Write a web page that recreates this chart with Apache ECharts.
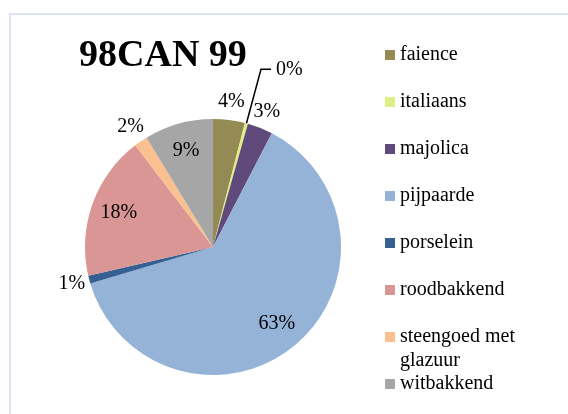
<!DOCTYPE html>
<html>
<head>
<meta charset="utf-8">
<script src="https://cdn.jsdelivr.net/npm/echarts@6/dist/echarts.min.js"></script>
<style>
html,body{margin:0;padding:0;background:#fff;}
#chart{width:568px;height:414px;}
</style>
</head>
<body>
<div id="chart"></div>
<script>
const titleText = '98CAN 99';
const categories = ['faience','italiaans','majolica','pijpaarde','porselein','roodbakkend','steengoed met glazuur','witbakkend'];
const values = [4.0, 0.4, 3.2, 62.8, 1.0, 18.2, 1.7, 8.7];
const colors = ['#948a54','#e0ef83','#604a7b','#95b3d7','#376092','#d99694','#fac090','#a6a6a6'];
const insideLabels = [false, false, false, true, false, true, false, true];

const FONT = '"Liberation Serif","Times New Roman",serif';
const cx = 213, cy = 247, R = 128;
const legTop = 45, legRow = 20, legGap = 27;

// mid angles (clockwise from top) computed from the data
const total = values.reduce((a,b)=>a+b,0);
const midAngles = [];
let acc = 0;
values.forEach(v => { midAngles.push((acc + v/2) / total * 2 * Math.PI); acc += v; });

const wrapIdx = categories.indexOf('steengoed met glazuur');

const chart = echarts.init(document.getElementById('chart'), null, {renderer:'canvas'});
chart.setOption({
  animation:false,
  backgroundColor:'#ffffff',
  color: colors,
  graphic:[{
    type:'rect', silent:true, z:-10,
    shape:{x:10, y:14, width:620, height:440},
    style:{fill:'none', stroke:'#d9e3f1', lineWidth:2}
  },{
    type:'text', silent:true,
    x:400, y: legTop + wrapIdx*(legRow+legGap) + legRow/2 + 24,
    style:{text:'glazuur', fontFamily:FONT, fontSize:20, fill:'#000', verticalAlign:'middle', align:'left'}
  }],
  title:{
    text:titleText, left:79, top:37, padding:0,
    textStyle:{fontFamily:FONT, fontSize:38, fontWeight:'bold', color:'#000'}
  },
  legend:{
    orient:'vertical', left:385, top:legTop, padding:0,
    itemWidth:10, itemHeight:10, itemGap:legGap, icon:'rect',
    data: categories,
    formatter: n => n === 'steengoed met glazuur' ? 'steengoed met' : n,
    textStyle:{fontFamily:FONT, fontSize:20, color:'#000', lineHeight:legRow}
  },
  series:[{
    type:'pie',
    center:[cx, cy], radius:[0, R],
    startAngle:90, clockwise:true,
    avoidLabelOverlap:false,
    itemStyle:{borderWidth:0},
    label:{
      show:true, fontFamily:FONT, fontSize:20, color:'#000',
      formatter: p => Math.round(p.percent) + '%'
    },
    labelLine:{show:true, length:56, length2:10, smooth:false, lineStyle:{color:'#000', width:1.5}},
    labelLayout: function(p){
      const i = p.dataIndex;
      if (i === 1) return {};
      const a = midAngles[i];
      const d = insideLabels[i] ? 100 : R + 18;
      return {x: cx + Math.sin(a)*d, y: cy - Math.cos(a)*d, align:'center', verticalAlign:'middle'};
    },
    data: categories.map((c,i)=>({
      name:c, value:values[i],
      label:{position: insideLabels[i] ? 'inside' : 'outside'},
      labelLine:{show: i === 1}
    }))
  }]
});
</script>
</body>
</html>
